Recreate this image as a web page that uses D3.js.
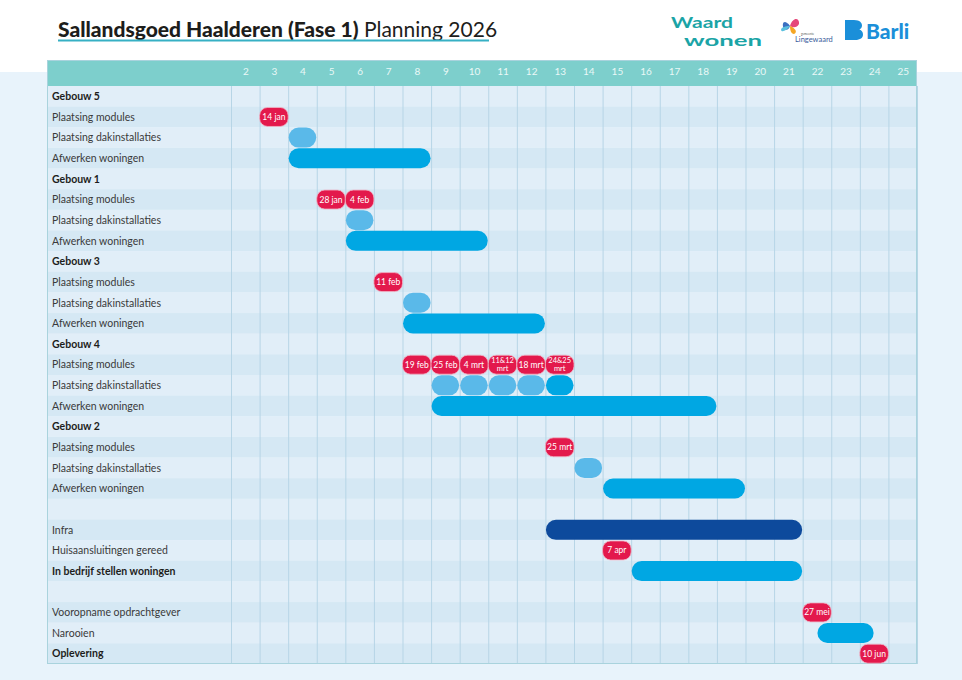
<!DOCTYPE html>
<html>
<head>
<meta charset="utf-8">
<script src="https://cdn.jsdelivr.net/npm/d3@7"></script>
<style>
  body { margin: 0; background: #ffffff; }
  svg { display: block; font-family: Lato, "Open Sans", sans-serif; }
</style>
</head>
<body>
<svg id="chart"></svg>
<script>
// week numbers in the header
let weeks = [2, 3, 4, 5, 6, 7, 8, 9, 10, 11, 12, 13, 14, 15, 16, 17, 18, 19, 20, 21, 22, 23, 24, 25];

// row labels, top to bottom
let rowLabels = [
  'Gebouw 5', 'Plaatsing modules', 'Plaatsing dakinstallaties', 'Afwerken woningen',
  'Gebouw 1', 'Plaatsing modules', 'Plaatsing dakinstallaties', 'Afwerken woningen',
  'Gebouw 3', 'Plaatsing modules', 'Plaatsing dakinstallaties', 'Afwerken woningen',
  'Gebouw 4', 'Plaatsing modules', 'Plaatsing dakinstallaties', 'Afwerken woningen',
  'Gebouw 2', 'Plaatsing modules', 'Plaatsing dakinstallaties', 'Afwerken woningen',
  '', 'Infra', 'Huisaansluitingen gereed', 'In bedrijf stellen woningen',
  '', 'Vooropname opdrachtgever', 'Narooien', 'Oplevering'
];
let boldRows = [0, 4, 8, 12, 16, 23, 27];

// bars: row index, first week, last week (inclusive), kind
let bars = [
  { row: 2, from: 4, to: 4, kind: 'dak' },
  { row: 3, from: 4, to: 8, kind: 'work' },
  { row: 6, from: 6, to: 6, kind: 'dak' },
  { row: 7, from: 6, to: 10, kind: 'work' },
  { row: 10, from: 8, to: 8, kind: 'dak' },
  { row: 11, from: 8, to: 12, kind: 'work' },
  { row: 14, from: 9, to: 9, kind: 'dak' },
  { row: 14, from: 10, to: 10, kind: 'dak' },
  { row: 14, from: 11, to: 11, kind: 'dak' },
  { row: 14, from: 12, to: 12, kind: 'dak' },
  { row: 14, from: 13, to: 13, kind: 'work' },
  { row: 15, from: 9, to: 18, kind: 'work' },
  { row: 18, from: 14, to: 14, kind: 'dak' },
  { row: 19, from: 15, to: 19, kind: 'work' },
  { row: 21, from: 13, to: 21, kind: 'infra' },
  { row: 23, from: 16, to: 21, kind: 'work' },
  { row: 26, from: 22.5, to: 23.5, kind: 'work' }
];

// milestones: row index, week, label
let milestones = [
  { row: 1, week: 3, label: '14 jan' },
  { row: 5, week: 5, label: '28 jan' },
  { row: 5, week: 6, label: '4 feb' },
  { row: 9, week: 7, label: '11 feb' },
  { row: 13, week: 8, label: '19 feb' },
  { row: 13, week: 9, label: '25 feb' },
  { row: 13, week: 10, label: '4 mrt' },
  { row: 13, week: 11, label: '11&12|mrt' },
  { row: 13, week: 12, label: '18 mrt' },
  { row: 13, week: 13, label: '24&25|mrt' },
  { row: 17, week: 13, label: '25 mrt' },
  { row: 22, week: 15, label: '7 apr' },
  { row: 25, week: 22, label: '27 mei' },
  { row: 27, week: 24, label: '10 jun' }
];

let width = 962;
let height = 680;
let gridLeft = 47;
let labelRight = 231;
let gridRight = 917;
let headTop = 60;
let gridTop = 86;
let gridBottom = 664;

let colors = { dak: '#5ab9e9', work: '#00a7e3', infra: '#0d4a9c' };

let svg = d3.select('#chart').attr('width', width).attr('height', height);

let xScale = d3.scaleLinear().domain([2, 26]).range([labelRight, gridRight]);
let yScale = d3.scaleBand().domain(d3.range(rowLabels.length)).range([gridTop, gridBottom]);

let drawBackground = () => {
  svg.append('rect').attr('x', 0).attr('y', 0).attr('width', width).attr('height', height).attr('fill', '#ffffff');
  svg.append('rect').attr('x', 0).attr('y', 72).attr('width', width).attr('height', height - 72).attr('fill', '#e8f3fb');
}

let drawTitle = () => {
  let t = svg.append('text').attr('x', 58).attr('y', 37).attr('font-size', 21).attr('fill', '#1d1d1b')
  t.append('tspan').attr('font-weight', 900).text('Sallandsgoed Haalderen (Fase 1)')
  t.append('tspan').attr('font-weight', 400).text(' Planning 2026')
  svg.append('line').attr('x1', 58).attr('x2', 489).attr('y1', 40.5).attr('y2', 40.5)
    .attr('stroke', '#36b0c4').attr('stroke-width', 2)

  // logos
  svg.append('text').attr('x', 671).attr('y', 27.5).attr('font-size', 15).attr('font-weight', 700)
    .attr('textLength', 62).attr('lengthAdjust', 'spacingAndGlyphs').attr('fill', '#1ba4a6').text('Waard')
  svg.append('text').attr('x', 684).attr('y', 46).attr('font-size', 15).attr('font-weight', 700)
    .attr('textLength', 78).attr('lengthAdjust', 'spacingAndGlyphs').attr('fill', '#1ba4a6').text('wonen')

  let b = svg.append('g').attr('transform', 'translate(790,26)')
  b.append('path').attr('d', 'M0,0 C-6,-8 -9,-2 -6,3 C-3,5 -1,3 0,0 Z').attr('fill', '#3b6fc1')
  b.append('path').attr('d', 'M0,0 C3,-10 10,-8 9,-2 C7,2 3,2 0,0 Z').attr('fill', '#e5487a')
  b.append('path').attr('d', 'M0,0 C5,2 8,6 4,8 C1,8 0,4 0,0 Z').attr('fill', '#f5a623')
  b.append('path').attr('d', 'M0,0 C-3,4 -8,7 -9,4 C-9,1 -4,0 0,0 Z').attr('fill', '#5bc0de')
  svg.append('text').attr('x', 801).attr('y', 35).attr('font-size', 3).attr('fill', '#555').text('gemeente')
  svg.append('text').attr('x', 795).attr('y', 42).attr('font-size', 7.5).attr('fill', '#3a5c9c').text('Lingewaard')

  svg.append('path')
    .attr('d', 'M845,20 h9 c6,0 8,3 8,5.5 c0,2 -1,3.2 -2.6,4 c2.4,0.8 3.6,2.6 3.6,5 c0,3.2 -2.5,5.5 -8,5.5 h-10 z')
    .attr('fill', '#1b8fd9')
  svg.append('text').attr('x', 866).attr('y', 39).attr('font-size', 21).attr('font-weight', 900)
    .attr('fill', '#1b8fd9').text('Barli')
}

let drawGrid = () => {
  svg.append('rect').attr('x', gridLeft).attr('y', headTop).attr('width', gridRight - gridLeft).attr('height', gridTop - headTop)
    .attr('fill', '#7dcfcc')

  svg.selectAll('rect.row')
    .data(rowLabels)
    .enter()
    .append('rect')
    .attr('class', 'row')
    .attr('x', gridLeft)
    .attr('y', (d, i) => yScale(i))
    .attr('width', gridRight - gridLeft)
    .attr('height', yScale.bandwidth())
    .attr('fill', (d, i) => i % 2 === 0 ? '#e1eef8' : '#d5e8f4')

  svg.selectAll('line.col')
    .data([2].concat(weeks.map(w => w + 1)))
    .enter()
    .append('line')
    .attr('class', 'col')
    .attr('x1', (d) => xScale(d) + 0.5)
    .attr('x2', (d) => xScale(d) + 0.5)
    .attr('y1', gridTop)
    .attr('y2', gridBottom)
    .attr('stroke', '#b7d5e6')
    .attr('stroke-width', 1)

  svg.append('rect').attr('x', gridLeft + 0.5).attr('y', headTop + 0.5).attr('width', gridRight - gridLeft - 1)
    .attr('height', gridBottom - headTop - 1).attr('fill', 'none').attr('stroke', '#a9d3dd')

  let xAxis = d3.axisTop(xScale)
    .tickValues(weeks.map(w => w + 0.5))
    .tickFormat((d) => Math.floor(d))
    .tickSize(0)

  svg.append('g')
    .attr('transform', `translate(0, ${gridTop - 8})`)
    .call(xAxis)
    .call(g => g.select('.domain').remove())
    .selectAll('text')
    .attr('fill', '#eaf8f7')
    .attr('font-size', 10)
    .attr('font-family', 'Lato, sans-serif')

  svg.selectAll('text.label')
    .data(rowLabels)
    .enter()
    .append('text')
    .attr('class', 'label')
    .attr('x', 52)
    .attr('y', (d, i) => yScale(i) + yScale.bandwidth() / 2 + 3.8)
    .attr('font-size', 10.5)
    .attr('font-weight', (d, i) => boldRows.includes(i) ? 700 : 400)
    .attr('fill', (d, i) => boldRows.includes(i) ? '#1d1d1b' : '#3a3a3a')
    .text((d) => d)
}

let drawBars = () => {
  let h = 20;
  svg.selectAll('rect.bar')
    .data(bars)
    .enter()
    .append('rect')
    .attr('class', 'bar')
    .attr('x', (d) => xScale(d.from) + 0.5)
    .attr('y', (d) => yScale(d.row) + (yScale.bandwidth() - h) / 2)
    .attr('width', (d) => xScale(d.to + 1) - xScale(d.from) - 1)
    .attr('height', h)
    .attr('rx', h / 2)
    .attr('fill', (d) => colors[d.kind])
}

let drawMilestones = () => {
  let h = 19;
  let g = svg.selectAll('g.ms')
    .data(milestones)
    .enter()
    .append('g')
    .attr('class', 'ms')
    .attr('transform', (d) => `translate(${xScale(d.week)}, ${yScale(d.row) + yScale.bandwidth() / 2})`)

  g.append('rect')
    .attr('x', 0)
    .attr('y', -h / 2)
    .attr('width', (xScale(3) - xScale(2)))
    .attr('height', h)
    .attr('rx', 8)
    .attr('fill', '#e3194c')
    .attr('stroke', '#f1b6c6')
    .attr('stroke-width', 0.8)

  g.each(function (d) {
    let cx = (xScale(3) - xScale(2)) / 2;
    let parts = d.label.split('|');
    let t = d3.select(this).append('text')
      .attr('text-anchor', 'middle')
      .attr('fill', '#ffffff')
      .attr('font-size', parts.length > 1 ? 7.5 : 8.5)
    if (parts.length > 1) {
      t.append('tspan').attr('x', cx).attr('y', -1.5).text(parts[0])
      t.append('tspan').attr('x', cx).attr('y', 6).text(parts[1])
    } else {
      t.attr('x', cx).attr('y', 3).text(parts[0])
    }
  })
}

drawBackground()
drawTitle()
drawGrid()
drawBars()
drawMilestones()
</script>
</body>
</html>
